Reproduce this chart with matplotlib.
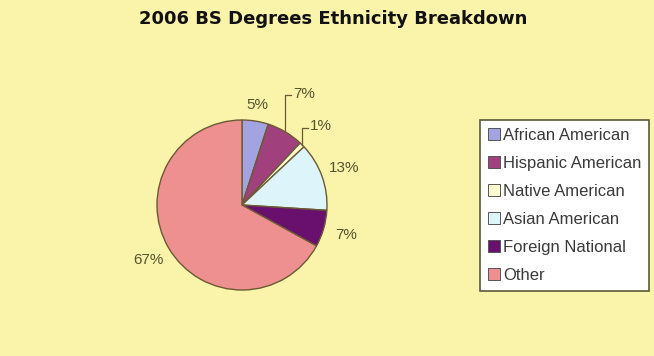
import numpy as np
import matplotlib
matplotlib.use("Agg")
import matplotlib.pyplot as plt
from matplotlib.patches import Patch

categories = ["African American", "Hispanic American", "Native American",
              "Asian American", "Foreign National", "Other"]
values = [5, 7, 1, 13, 7, 67]
pct_labels = ["5%", "7%", "1%", "13%", "7%", "67%"]
colors = ["#A3A3E2", "#A0407C", "#FFFFD0", "#DDF5FA", "#690F6E", "#EE8F90"]

bg = "#FAF3AA"
edge = "#6B5A34"
txtcol = "#55552F"

plt.rcParams['font.family'] = ['Liberation Sans', 'DejaVu Sans']

fig = plt.figure(figsize=(6.54, 3.56), dpi=100)
fig.patch.set_facecolor(bg)

W, H = 654, 356
cx, cy, r = 242, 205, 85
ax = fig.add_axes([(cx - r) / W, (H - cy - r) / H, 2 * r / W, 2 * r / H])

wedges, _ = ax.pie(values, colors=colors, startangle=90, counterclock=False,
                   radius=1.0, wedgeprops=dict(edgecolor=edge, linewidth=1.0))
ax.set_xlim(-1, 1)
ax.set_ylim(-1, 1)
ax.set_aspect('equal')
ax.axis('off')

for i, w in enumerate(wedges):
    mid = np.deg2rad((w.theta1 + w.theta2) / 2)
    ex, ey = np.cos(mid), np.sin(mid)
    if i in (1, 2):
        top = 1.29 if i == 1 else 0.91
        ax.plot([ex, ex, ex + 0.07], [ey, top, top], color=edge, lw=0.9,
                clip_on=False)
        ax.text(ex + 0.09, top + 0.02, pct_labels[i], ha='left', va='center',
                fontsize=11, color=txtcol, clip_on=False)
    else:
        rr = 1.08 + 0.18 * abs(ex) + 0.08 * abs(ey)
        ax.text(rr * ex, rr * ey, pct_labels[i], ha='center', va='center',
                fontsize=11, color=txtcol, clip_on=False)

fig.text(333 / W, 1 - 19 / H, "2006 BS Degrees Ethnicity Breakdown",
         ha='center', va='center', fontsize=13, fontweight='bold',
         color='#111111', family=['DejaVu Sans'])

handles = [Patch(facecolor=c, edgecolor='#555555', linewidth=0.7) for c in colors]
leg = fig.legend(handles, categories, loc='upper left',
                 bbox_to_anchor=(480 / W, 1 - 120 / H),
                 fontsize=12, frameon=True, fancybox=False, framealpha=1,
                 handlelength=0.7, handleheight=0.7, handletextpad=0.2,
                 labelspacing=0.78, borderpad=0.48, borderaxespad=0)
fr = leg.get_frame()
fr.set_edgecolor('#5A5A3A')
fr.set_linewidth(1.2)
fr.set_facecolor('white')
for t in leg.get_texts():
    t.set_color('#3A3A3A')

fig.savefig("out.png", dpi=100, facecolor=bg)
